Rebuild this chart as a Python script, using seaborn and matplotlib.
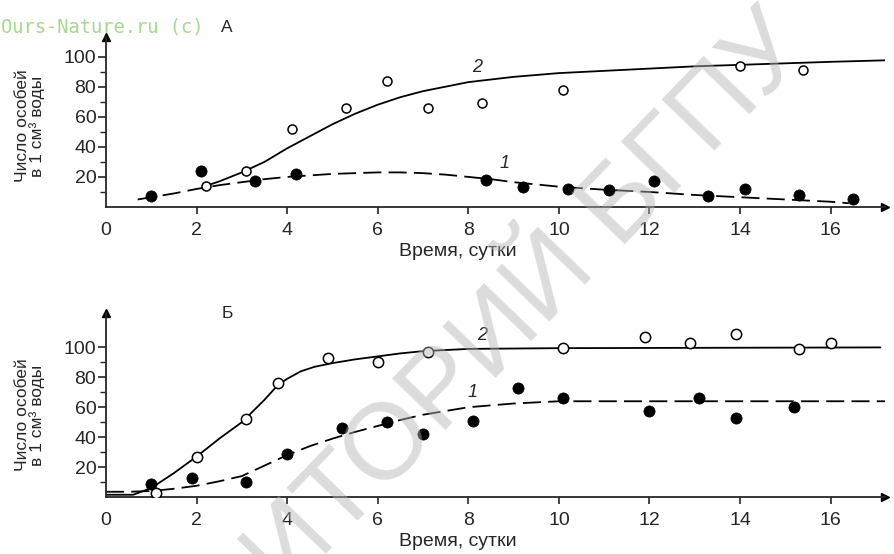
import numpy as np
import matplotlib
matplotlib.use("Agg")
import matplotlib.pyplot as plt
import pandas as pd
import seaborn as sns

# --- data ---
# Panel A: observed points
a_open_x = [2.2, 3.1, 4.1, 5.3, 6.2, 7.1, 8.3, 10.1, 14.0, 15.4]
a_open_y = [14, 24, 52, 66, 84, 66, 69, 78, 94, 91]
a_fill_x = [1.0, 2.1, 3.3, 4.2, 8.4, 9.2, 10.2, 11.1, 12.1, 13.3, 14.1, 15.3, 16.5]
a_fill_y = [7, 24, 17, 22, 18, 13, 12, 11, 17, 7, 12, 8, 5]

# Panel A: fitted curves (traced)
a_c2_x = [2.25, 2.5, 3.0, 3.5, 4.0, 4.5, 5.0, 5.5, 6.0, 6.5, 7.0, 7.5, 8.0, 9.0, 10, 11, 12, 13, 14, 15, 16, 17.2]
a_c2_y = [14.5, 17, 23, 30, 39, 47, 55, 62, 68, 73, 77, 80, 83, 86.5, 89, 90.5, 92, 93.5, 94.5, 95.5, 96.5, 97.5]
a_c1_x = [0.7, 1.0, 1.5, 2.0, 2.5, 3.0, 3.5, 4.0, 5.0, 6.0, 6.5, 7.0, 7.5, 8.0, 8.5, 9.0, 9.5, 10, 11, 12, 13, 14, 15, 16, 16.4]
a_c1_y = [5, 6.5, 9, 12, 14.5, 16.5, 18.5, 20, 22, 23, 23, 22.5, 21.5, 20, 18.5, 16.5, 15, 13.5, 11.5, 10, 8, 6.5, 5, 3.5, 2.5]

# Panel B: observed points
b_open_x = [1.1, 2.0, 3.1, 3.8, 4.9, 6.0, 7.1, 10.1, 11.9, 12.9, 13.9, 15.3, 16.0]
b_open_y = [3, 27, 52, 76, 93, 90, 97, 99.5, 107, 103, 109, 99, 103]
b_fill_x = [1.0, 1.9, 3.1, 4.0, 5.2, 6.2, 7.0, 8.1, 9.1, 10.1, 12.0, 13.1, 13.9, 15.2]
b_fill_y = [9, 13, 10, 29, 46, 50, 42, 51, 73, 66, 57.5, 66.5, 53, 60]

# Panel B: fitted curves (traced)
b_c2_x = [0, 0.6, 1.0, 1.5, 2.0, 2.5, 3.0, 3.5, 3.8, 4.0, 4.3, 4.6, 5.0, 5.5, 6.0, 6.5, 7.0, 8.0, 10, 17.1]
b_c2_y = [1.5, 1.5, 6, 16, 27, 39, 50, 65, 75, 79, 84, 87, 89.5, 92, 94, 96, 97.5, 99, 99.5, 100]
b_c1_x = [0, 0.5, 1.0, 1.5, 2.0, 2.5, 3.0, 3.5, 4.0, 4.5, 5.0, 5.5, 6.0, 6.5, 7.0, 7.5, 8.0, 9.0, 10, 12, 17.3]
b_c1_y = [3.5, 3.5, 4, 5.5, 7.5, 10.5, 14, 21, 28, 34, 39, 43.5, 47.5, 51.5, 55, 57.5, 60, 62.5, 64, 64, 64]

x_ticks = [0, 2, 4, 6, 8, 10, 12, 14, 16]
y_ticks = [20, 40, 60, 80, 100]

sns.set_style("ticks")
plt.rcParams["font.family"] = ["Liberation Sans", "DejaVu Sans"]

fig = plt.figure(figsize=(8.94, 5.54), dpi=100)
ax_a = fig.add_axes([106 / 894, 1 - 207 / 554, 779 / 894, 170 / 554])
ax_b = fig.add_axes([106 / 894, 1 - 497 / 554, 779 / 894, 184 / 554])


def draw_panel(ax, fx, fy, ox, oy, c1x, c1y, c2x, c2y, ytop, lab1, lab2, osize):
    sns.lineplot(x=c2x, y=c2y, ax=ax, color="black", lw=1.3, sort=False)
    sns.lineplot(x=c1x, y=c1y, ax=ax, color="black", lw=1.3, sort=False,
                 linestyle=(0, (10, 4)))
    sns.scatterplot(x=fx, y=fy, ax=ax, color="black", s=65, edgecolor="black",
                    linewidth=0.5, zorder=3)
    sns.scatterplot(x=ox, y=oy, ax=ax, color="white", s=osize, edgecolor="black",
                    linewidth=1.1, zorder=3)
    ax.set_xlim(0, 17.2)
    ax.set_ylim(0, ytop)
    sns.despine(ax=ax)
    for sp in ("left", "bottom"):
        ax.spines[sp].set_linewidth(1.3)
    ax.set_xticks(x_ticks[1:])
    ax.set_xticklabels([str(t) for t in x_ticks[1:]])
    ax.set_yticks(y_ticks)
    ax.set_yticks(np.arange(10, 101, 10), minor=True)
    ax.tick_params(axis="both", labelsize=14, width=1.2, length=6, direction="out")
    ax.tick_params(axis="y", which="minor", length=4, width=1.0)
    ax.tick_params(axis="x", length=5, pad=6)
    ax.tick_params(axis="y", pad=1)
    ax.annotate("0", xy=(0, 0), xytext=(0, -17), textcoords="offset points",
                ha="center", va="center", fontsize=14, annotation_clip=False)
    # arrow heads on the axes
    ax.plot(1, 0, ">k", ms=6, transform=ax.get_yaxis_transform(), clip_on=False)
    ax.plot(0, 1, "^k", ms=6, transform=ax.get_xaxis_transform(), clip_on=False)
    ax.text(lab2[0], lab2[1], "2", fontsize=13, style="italic", ha="center", va="center")
    ax.text(lab1[0], lab1[1], "1", fontsize=13, style="italic", ha="center", va="center")
    ax.set_xlabel("")
    ax.set_ylabel("")


draw_panel(ax_a, a_fill_x, a_fill_y, a_open_x, a_open_y,
           a_c1_x, a_c1_y, a_c2_x, a_c2_y, 113, (8.8, 29), (8.2, 93), 42)
draw_panel(ax_b, b_fill_x, b_fill_y, b_open_x, b_open_y,
           b_c1_x, b_c1_y, b_c2_x, b_c2_y, 123, (8.1, 70), (8.3, 108), 55)

ylab = "Число особей\nв 1 см³ воды"
fig.text(30 / 894, 1 - 126 / 554, ylab, rotation=90, ha="center", va="center",
         fontsize=12.5, linespacing=1.0)
fig.text(30 / 894, 1 - 415 / 554, ylab, rotation=90, ha="center", va="center",
         fontsize=12.5, linespacing=1.0)
fig.text(458 / 894, 1 - 251 / 554, "Время, сутки", ha="center", va="center", fontsize=14)
fig.text(458 / 894, 1 - 541 / 554, "Время, сутки", ha="center", va="center", fontsize=14)

fig.text(227 / 894, 1 - 27 / 554, "А", ha="center", va="center", fontsize=12.5)
fig.text(227 / 894, 1 - 313 / 554, "Б", ha="center", va="center", fontsize=12.5)
fig.text(1 / 894, 1 - 27 / 554, "Ours-Nature.ru (c)", ha="left", va="center",
         fontsize=13.5, family="DejaVu Sans Mono", color="#a8d890")

# repository watermark
fig.text(811 / 894, 1 - 51 / 554, "РЕПОЗИТОРИЙ БГПУ", rotation=46,
         rotation_mode="anchor", ha="right", va="baseline", fontsize=78,
         color=(0.71, 0.71, 0.71), alpha=0.47, zorder=10)

fig.savefig("out.png", dpi=100)
